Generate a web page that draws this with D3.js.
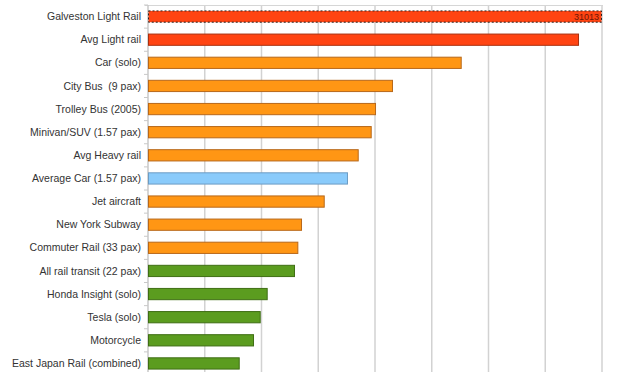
<!DOCTYPE html>
<html><head><meta charset="utf-8">
<script src="https://cdn.jsdelivr.net/npm/d3@7"></script>
<style>body{margin:0;background:#fff}svg{display:block}</style>
</head><body>
<script>
const categories = ["Galveston Light Rail","Avg Light rail","Car (solo)","City Bus  (9 pax)","Trolley Bus (2005)","Minivan/SUV (1.57 pax)","Avg Heavy rail","Average Car (1.57 pax)","Jet aircraft","New York Subway","Commuter Rail (33 pax)","All rail transit (22 pax)","Honda Insight (solo)","Tesla (solo)","Motorcycle","East Japan Rail (combined)"];
const values = [31013,7595,5528,4317,4018,3942,3713,3524,3114,2714,2649,2590,2109,1986,1868,1616];
const groups = ["red","red","orange","orange","orange","orange","orange","blue","orange","orange","orange","green","green","green","green","green"];
const xTicks = [0,1000,2000,3000,4000,5000,6000,7000,8000];
const xMax = 8000;
const barLabels = ["31013"];

const fills = {red:"#ff4412", orange:"#ff9614", blue:"#8acbfb", green:"#5b9c1f"};
const strokes = {red:"#a83010", orange:"#b8681a", blue:"#6c9cc4", green:"#3f6e14"};

const W=624,H=372;
const svg=d3.select("body").append("svg").attr("width",W).attr("height",H);
const x=d3.scaleLinear().domain([0,xMax]).range([148,602]);
const y=d3.scaleBand().domain(categories).range([5,375]).paddingInner(0.47).paddingOuter(0.235);

// grid
svg.append("g").selectAll("line").data(xTicks.slice(1)).join("line")
  .attr("x1",d=>x(d)).attr("x2",d=>x(d)).attr("y1",5).attr("y2",H)
  .attr("stroke","#d2d2d2").attr("stroke-width",1.5);
svg.append("line").attr("x1",145).attr("x2",603).attr("y1",5.5).attr("y2",5.5).attr("stroke","#d6d6d6");
// left axis
svg.append("line").attr("x1",x(0)).attr("x2",x(0)).attr("y1",5).attr("y2",H).attr("stroke","#c8c8c8").attr("stroke-width",1.5);
const step=y.step();
svg.append("g").selectAll("line").data(d3.range(categories.length+1)).join("line")
  .attr("x1",144).attr("x2",148).attr("y1",i=>5+i*step).attr("y2",i=>5+i*step).attr("stroke","#c8c8c8");

// bars
svg.append("g").selectAll("rect").data(categories).join("rect")
  .attr("x",x(0)+0.5)
  .attr("y",d=>y(d)+0.5)
  .attr("width",(d,i)=>x(Math.min(values[i],xMax))-x(0)-1)
  .attr("height",y.bandwidth()-1)
  .attr("fill",(d,i)=>fills[groups[i]])
  .attr("stroke",(d,i)=>i===0?"#222":strokes[groups[i]])
  .attr("stroke-dasharray",(d,i)=>i===0?"2,2":null)
  .attr("stroke-width",1);

// value label on truncated bar
svg.append("text").attr("x",x(xMax)-3).attr("y",y(categories[0])+y.bandwidth()/2)
  .attr("dy","0.35em").attr("text-anchor","end")
  .attr("font-family","Liberation Sans, Arial, sans-serif").attr("font-size",9)
  .attr("fill","#6a1606").text(barLabels[0]);

// category labels
svg.append("g").selectAll("text").data(categories).join("text")
  .attr("x",141).attr("y",d=>y(d)+y.bandwidth()/2).attr("dy","0.35em")
  .attr("text-anchor","end").attr("font-family","Liberation Sans, Arial, sans-serif")
  .attr("font-size",10.5).attr("fill","#333").attr("xml:space","preserve")
  .style("white-space","pre").text(d=>d);
</script>
</body></html>
